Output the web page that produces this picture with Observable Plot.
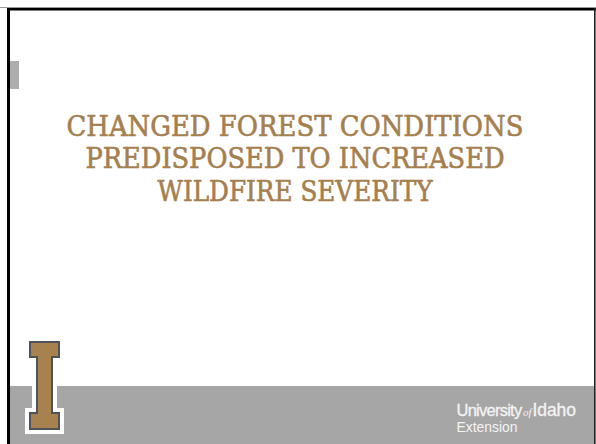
<!DOCTYPE html>
<html>
<head>
<meta charset="utf-8">
<script src="https://cdn.jsdelivr.net/npm/d3@7"></script>
<script src="https://cdn.jsdelivr.net/npm/@observablehq/plot@0.6"></script>
<style>
  html, body { margin: 0; padding: 0; background: #ffffff; }
  #chart svg { display: block; }
</style>
</head>
<body>
<div id="chart"></div>
<script>
// ---- content ----
const titleLines = ["CHANGED FOREST CONDITIONS", "PREDISPOSED TO INCREASED", "WILDFIRE SEVERITY"];
const logoWords = ["University", "of", "Idaho"];
const logoSub = ["Extension"];

// ---- layout / style (slide geometry in pixels) ----
const W = 596, H = 444;
const colors = {
  title: "#A57F4F",
  gold: "#A8824E",
  goldStroke: "#4E5359",
  band: "#A6A6A6",
  tab: "#ADADAD",
  border: "#000000",
  borderGray: "#9A9A9A",
  right: "#222222",
  logo: "#F4F4F4"
};
const frame = [
  {x1: 0, x2: W, y1: 7, y2: 8, fill: colors.borderGray},
  {x1: 7, x2: W, y1: 8, y2: 10.5, fill: colors.border},
  {x1: 7, x2: 10, y1: 8, y2: H, fill: colors.border},
  {x1: 594, x2: 595.6, y1: 8, y2: H, fill: colors.right},
  {x1: 10, x2: 594, y1: 386, y2: H, fill: colors.band},
  {x1: 10, x2: 19, y1: 61, y2: 89, fill: colors.tab}
];
// the block "I": top serif, stem, bottom serif (outer edge of dark stroke)
const iParts = [
  {x1: 29, x2: 60, y1: 341, y2: 358},
  {x1: 36, x2: 53, y1: 350, y2: 420},
  {x1: 29, x2: 60, y1: 412, y2: 430}
];
const pad = (p, k) => ({x1: p.x1 - k, x2: p.x2 + k, y1: p.y1 - k, y2: p.y2 + k});

const title = {x: 294.5, y0: 135, dy: 32.5, size: 28.5, widths: [457, 419, 275]};
const logo = {
  x: 456, y: 415,
  parts: [
    {size: 16.5, spacing: -0.75, dx: 0, family: "'Liberation Sans', Arial, sans-serif", style: "normal"},
    {size: 11, spacing: 0, dx: 1.5, family: "'Liberation Serif', serif", style: "italic"},
    {size: 17.5, spacing: -0.1, dx: 1, family: "'Liberation Sans', Arial, sans-serif", style: "normal"}
  ],
  subX: 456, subY: 431, subSize: 15.5, subWidth: 61
};
const sans = "'Liberation Sans', Arial, sans-serif";

const plot = Plot.plot({
  width: W,
  height: H,
  margin: 0,
  style: {background: "#ffffff"},
  x: {domain: [0, W], range: [0, W], axis: null},
  y: {domain: [0, H], range: [0, H], axis: null},
  marks: [
    Plot.rect(frame, {x1: "x1", x2: "x2", y1: "y1", y2: "y2", fill: "fill"}),
    Plot.rect(iParts.map(p => pad(p, 4)), {x1: "x1", x2: "x2", y1: "y1", y2: "y2", fill: "#ffffff"}),
    Plot.rect(iParts, {x1: "x1", x2: "x2", y1: "y1", y2: "y2", fill: colors.goldStroke}),
    Plot.rect(iParts.map(p => pad(p, -2)), {x1: "x1", x2: "x2", y1: "y1", y2: "y2", fill: colors.gold}),
    Plot.text(titleLines, {
      x: () => title.x,
      y: (d, i) => title.y0 + i * title.dy,
      text: d => d,
      textAnchor: "middle",
      lineAnchor: "bottom",
      fontSize: title.size,
      fontFamily: "'DejaVu Serif Condensed', 'DejaVu Serif', serif",
      fill: colors.title,
      stroke: colors.title,
      strokeWidth: 0.6,
      className: "title-text"
    }),
    Plot.text([logoWords.join(" ")], {
      x: () => logo.x, y: () => logo.y, text: d => d,
      textAnchor: "start", lineAnchor: "bottom",
      fontSize: 16, fontFamily: sans, fill: colors.logo,
      className: "logo-words"
    }),
    Plot.text(logoSub, {
      x: () => logo.subX, y: () => logo.subY, text: d => d,
      textAnchor: "start", lineAnchor: "bottom",
      fontSize: logo.subSize, fontFamily: sans, fill: colors.logo,
      className: "logo-sub"
    })
  ]
});
document.getElementById("chart").appendChild(plot);

// fit text runs to the widths measured on the slide
const svg = d3.select(plot);
svg.selectAll(".title-text text").each(function (d, i) {
  d3.select(this).attr("textLength", title.widths[i]).attr("lengthAdjust", "spacingAndGlyphs");
});
// the logo line: one text, with a styled run for each word
svg.selectAll(".logo-words text").each(function () {
  const t = d3.select(this).text(null);
  logoWords.forEach((w, i) => {
    const p = logo.parts[i];
    const s = t.append("tspan")
      .attr("dx", p.dx)
      .attr("font-size", p.size)
      .attr("font-family", p.family)
      .attr("font-style", p.style)
      .attr("letter-spacing", p.spacing)
      .text(w);
    if (p.style === "normal") s.attr("stroke", colors.logo).attr("stroke-width", 0.3);
  });
});
svg.selectAll(".logo-sub text")
  .attr("textLength", logo.subWidth)
  .attr("lengthAdjust", "spacingAndGlyphs");
</script>
</body>
</html>
